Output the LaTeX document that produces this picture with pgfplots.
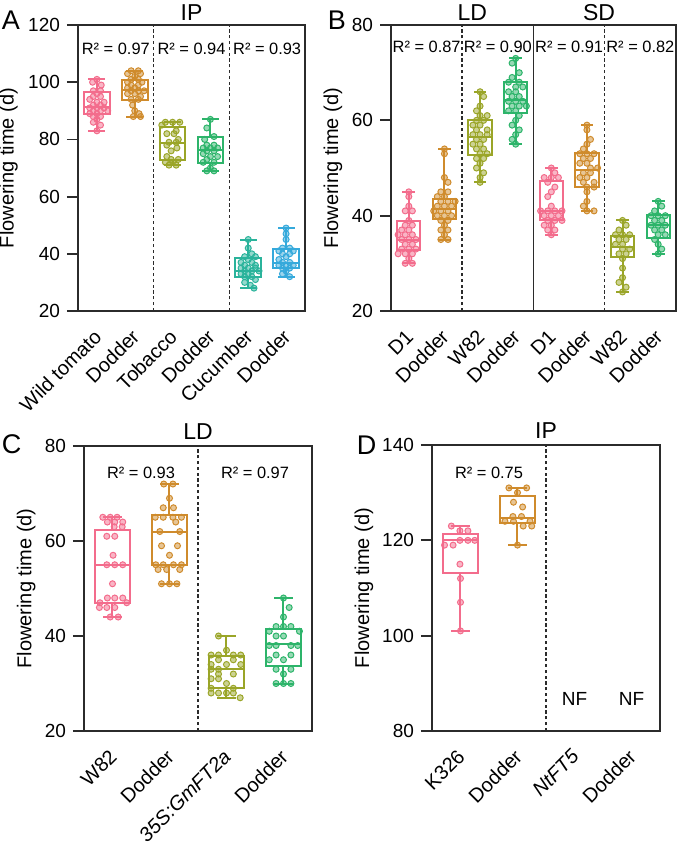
\documentclass[border=0pt]{standalone}
\usepackage{fontspec}
\setmainfont{Liberation Sans}
\usepackage{pgfplots}
\pgfplotsset{compat=1.18}

\definecolor{pinkc}{HTML}{F36C8C}
\definecolor{goldc}{HTML}{CF8B2C}
\definecolor{olivec}{HTML}{9AA528}
\definecolor{greenc}{HTML}{2DB46A}
\definecolor{tealc}{HTML}{2AB39B}
\definecolor{bluec}{HTML}{35A9DB}
\definecolor{axc}{HTML}{2B2B2B}

\newcommand{\tk}{\fontsize{9.5}{11}\selectfont}
\newcommand{\xl}{\fontsize{10}{12}\selectfont}
\newcommand{\rs}{\fontsize{8.2}{10}\selectfont}
\newcommand{\ttl}{\fontsize{11.5}{13}\selectfont}

\pgfplotsset{
  panel/.style={
    scale only axis, clip=false,
    axis line style={line width=0.9pt, draw=axc},
    ytick style={line width=0.9pt, draw=axc},
    xtick style={draw=none},
    ytick pos=left, xtick pos=bottom,
    ytick align=outside, major tick length=5.5pt,
    xticklabel style={font=\xl, xshift=0.5pt, yshift=-11pt, rotate=45, anchor=east, inner sep=0pt},
    yticklabel style={font=\tk},
    ylabel={Flowering time (d)},
    ylabel style={font=\xl, anchor=center},
    /pgf/number format/assume math mode=true,
  },
  pt/.style={only marks, mark=*, mark size=1.5pt,
    mark options={draw=#1, fill=#1, fill opacity=0.5, line width=0.5pt, solid}},
  bx/.style={draw=#1, line width=1pt, solid, line cap=rect, line join=miter, mark=none},
  sep/.style={dash pattern=on 1.6pt off 1.3pt, line width=0.75pt, draw=axc},
}

% box and whiskers from five numbers:
% #1 colour, #2 position, #3 half box, #4 half cap, #5 low whisker, #6 q1, #7 median, #8 q3, #9 high whisker
\newcommand{\bxp}[9]{%
  \pgfmathsetmacro\xa{#2-#3}\pgfmathsetmacro\xb{#2+#3}%
  \pgfmathsetmacro\ca{#2-#4}\pgfmathsetmacro\cb{#2+#4}%
  \addplot[bx=#1] coordinates {(\xa,#6) (\xb,#6) (\xb,#8) (\xa,#8) (\xa,#6)};
  \addplot[bx=#1] coordinates {(\xa,#7) (\xb,#7)};
  \addplot[bx=#1] coordinates {(#2,#8) (#2,#9)};
  \addplot[bx=#1] coordinates {(#2,#6) (#2,#5)};
  \addplot[bx=#1] coordinates {(\ca,#9) (\cb,#9)};
  \addplot[bx=#1] coordinates {(\ca,#5) (\cb,#5)};
}

\begin{document}
\begin{tikzpicture}

% ---------------- A ----------------
\begin{axis}[panel, at={(39pt,-155.5pt)}, anchor=south west,
  width=113.5pt, height=143pt,
  xmin=0.5, xmax=6.5, ymin=20, ymax=120, ytick={20,40,...,120},
  xtick={1,...,6},
  xticklabels={Wild tomato,Dodder,Tobacco,Dodder,Cucumber,Dodder},
  ylabel style={at={(axis description cs:-0.306,0.5)}}]
\addplot[sep] coordinates {(2.5,20) (2.5,120)};
\addplot[sep] coordinates {(4.5,20) (4.5,120)};
\bxp{pinkc}{1}{0.34}{0.2}{83}{88.9}{91.2}{96.7}{101}
\bxp{goldc}{2}{0.34}{0.2}{88}{93.8}{97.3}{100.8}{104}
\bxp{olivec}{3}{0.34}{0.2}{71}{72.8}{78.8}{84.5}{86}
\bxp{greenc}{4}{0.34}{0.2}{69}{71.6}{76.3}{81}{87}
\bxp{tealc}{5}{0.34}{0.2}{28}{32}{34}{38.4}{45}
\bxp{bluec}{6}{0.34}{0.2}{32}{35}{36.7}{41.6}{49}
\addplot[pt=pinkc] table[x expr=1+\thisrow{j}*0.19, y=y] {
j y
0 101
-0.6 100
0.6 99
-0.5 97
0.5 97
0 96
-0.5 95
0.5 95
-1 94
0 93
1 93
-0.5 92
0.5 92
-1 91
0 91
1 91
-0.5 90
0.5 90
1.5 90
-1 89
0 89
-0.5 88
0.5 88
0 87
-0.5 86
0.5 85
0 83
};
\addplot[pt=goldc] table[x expr=2+\thisrow{j}*0.19, y=y] {
j y
-0.5 104
0.5 104
-1 103
0.8 103
0 102
-0.5 101
0.5 101
-1 100
1 100
-0.5 99
0.5 99
-1 98
0 98
-0.5 97
0.5 97
1.3 97
-1 96
0 96
0.8 95
-0.5 94
0.5 94
-0.3 92
0 90
0.6 89
-0.2 88
0.8 88
};
\addplot[pt=olivec] table[x expr=3+\thisrow{j}*0.19, y=y] {
j y
-1 86
0 86
1 86
-1.5 85
0.5 83
-0.8 82
0.2 82
0.8 80
-0.5 79
0.5 79
-0.8 78
0.6 77
-0.2 76
-0.8 74
-0.2 73
0.8 73
-1 72
0 72
-0.5 71
0.5 71
};
\addplot[pt=greenc] table[x expr=4+\thisrow{j}*0.19, y=y] {
j y
0 87
-0.5 84
0.5 81
-0.8 80
-0.5 78
0.5 78
-1 77
0 77
1 77
-0.5 76
0.5 76
-1 75
0 74
1 74
-0.5 73
-1 72
0.5 72
0 70
-0.5 69
0.5 69
};
\addplot[pt=tealc] table[x expr=5+\thisrow{j}*0.19, y=y] {
j y
0 45
0 42
0.5 40
-0.5 39
1 39
0 38
-1 37
0.5 37
-0.5 36
1 36
-1 35
0 35
1 35
-0.5 34
0.5 34
1.5 34
-1 33
0 33
-0.5 32
0.5 32
1 31
-0.5 30
0.3 29
0.8 28
};
\addplot[pt=bluec] table[x expr=6+\thisrow{j}*0.19, y=y] {
j y
0 49
0 47
0 45
-0.5 42
0.5 42
-1 41
1 41
-0.5 40
0.5 40
0 39
-1 38
-0.5 37
0.5 37
-1 36
0 36
1 36
-0.5 35
0.5 35
0 34
-0.5 33
0.5 32
};
\node[font=\rs] at (axis cs:1.5,111.6) {R² = 0.97};
\node[font=\rs] at (axis cs:3.5,111.6) {R² = 0.94};
\node[font=\rs] at (axis cs:5.5,111.6) {R² = 0.93};
\node[font=\ttl] at (axis description cs:0.5,1.045) {IP};
\end{axis}

% ---------------- B ----------------
\begin{axis}[panel, at={(195.5pt,-155.5pt)}, anchor=south west,
  width=142.5pt, height=143pt,
  xmin=0.5, xmax=8.5, ymin=20, ymax=80, ytick={20,40,60,80},
  xtick={1,...,8},
  xticklabels={D1,Dodder,W82,Dodder,D1,Dodder,W82,Dodder},
  ylabel style={at={(axis description cs:-0.204,0.5)}}]
\addplot[sep] coordinates {(2.5,20) (2.5,80)};
\addplot[sep] coordinates {(6.5,20) (6.5,80)};
\addplot[draw=axc, line width=0.9pt] coordinates {(4.5,20) (4.5,80)};
\bxp{pinkc}{1}{0.325}{0.15}{30}{32.8}{35}{38.9}{45}
\bxp{goldc}{2}{0.325}{0.15}{35}{39.3}{41.5}{43.6}{54}
\bxp{olivec}{3}{0.325}{0.15}{47}{52.7}{56.6}{60.1}{66}
\bxp{greenc}{4}{0.325}{0.15}{55}{61.5}{64.3}{68.1}{73}
\bxp{pinkc}{5}{0.325}{0.15}{36}{39.1}{41}{47.3}{50}
\bxp{goldc}{6}{0.325}{0.15}{41}{46.1}{49.6}{53.1}{59}
\bxp{olivec}{7}{0.325}{0.15}{24}{31.4}{33.5}{35.7}{39}
\bxp{greenc}{8}{0.325}{0.15}{32}{35.3}{38}{40.1}{43}
\addplot[pt=pinkc] table[x expr=1+\thisrow{j}*0.2, y=y] {
j y
0 45
0 44
0 42
-0.5 41
0.5 41
0 39
-0.5 38
0.5 38
-1 37
0 37
-1.5 36
-0.5 36
0.5 36
-1 35
0 35
1 35
-0.5 34
0.5 34
-1 33
0 33
1 33
-1.5 32
-0.5 32
0.5 32
0 31
-0.5 30
0.5 30
};
\addplot[pt=goldc] table[x expr=2+\thisrow{j}*0.2, y=y] {
j y
0 54
0 53
0 48
0.5 47
-0.5 45
0.5 45
-1 44
0 44
-0.5 43
0.5 43
1.5 43
-1 42
0 42
1 42
-1.5 41
-0.5 41
0.5 41
-1 40
0 40
1 40
-0.5 39
0.5 39
0 38
-0.5 37
0.5 37
0 36
-0.5 35
0.5 35
};
\addplot[pt=olivec] table[x expr=3+\thisrow{j}*0.2, y=y] {
j y
0 66
0.5 65
0 63
-0.5 62
0 61
1 61
-0.5 60
0.5 60
-1 59
0 59
-0.5 58
1 58
-1 57
0 57
1 57
-0.5 56
0.5 56
-1 55
0 55
-0.5 54
0.5 54
0 53
1 53
-0.5 52
0.5 52
0 51
-0.5 50
0.5 49
0 48
0 47
};
\addplot[pt=greenc] table[x expr=4+\thisrow{j}*0.2, y=y] {
j y
0 73
-0.5 72
0.5 70
-0.5 69
-1 68
0.5 68
0 67
1 67
-1 66
0 66
-0.5 65
0.5 65
-1 64
0 64
1 64
-0.5 63
0.5 63
1.5 63
-1 62
0 62
0.5 61
0 60
-0.5 59
0.5 58
0 57
-0.5 56
0 55
};
\addplot[pt=pinkc] table[x expr=5+\thisrow{j}*0.2, y=y] {
j y
0 50
0.5 49
-1 48
0 48
1 48
-0.5 47
0.5 46
0 45
-0.5 44
0 42
-1.5 41
-0.5 41
0.5 41
1.5 41
-1 40
0 40
1 40
-0.5 39
0.5 39
1.5 39
-1 38
0 38
-0.5 37
0.5 37
0 36
};
\addplot[pt=goldc] table[x expr=6+\thisrow{j}*0.2, y=y] {
j y
0 59
0 58
0.5 56
0 55
-0.5 54
-1 53
0 53
1 53
-0.5 52
0.5 52
-1 51
0 51
0.5 50
1.5 50
-0.5 49
0.5 49
-1 48
0 48
-0.5 47
1 47
0 46
1 46
0 45
0 43
-0.5 42
0 41
1 41
};
\addplot[pt=olivec] table[x expr=7+\thisrow{j}*0.2, y=y] {
j y
0 39
0.5 38
-0.5 37
-1 36
0 36
1 36
-0.5 35
0.5 35
-1 34
0 34
0 33
1 33
-0.5 32
0.5 32
0 31
0 29
0 27
-0.5 26
0.5 25
0 24
};
\addplot[pt=greenc] table[x expr=8+\thisrow{j}*0.2, y=y] {
j y
0 43
0.5 42
-0.5 41
-1 40
0 40
1 40
-0.5 39
0.5 39
-1 38
0 38
1 38
-0.5 37
0.5 37
0 36
1 36
-0.5 35
0 34
0.5 33
0 32
};
\node[font=\rs] at (axis cs:1.5,75.4) {R² = 0.87};
\node[font=\rs] at (axis cs:3.5,75.4) {R² = 0.90};
\node[font=\rs] at (axis cs:5.5,75.4) {R² = 0.91};
\node[font=\rs] at (axis cs:7.5,75.4) {R² = 0.82};
\node[font=\ttl] at (axis description cs:0.285,1.045) {LD};
\node[font=\ttl] at (axis description cs:0.73,1.045) {SD};
\end{axis}

% ---------------- C ----------------
\begin{axis}[panel, at={(42pt,-365.5pt)}, anchor=south west,
  width=114pt, height=142.5pt,
  xmin=0.5, xmax=4.5, ymin=20, ymax=80, ytick={20,40,60,80},
  xtick={1,...,4},
  xticklabels={W82,Dodder,\textit{35S:GmFT2a},Dodder},
  ylabel style={at={(axis description cs:-0.254,0.5)}}]
\addplot[sep] coordinates {(2.5,20) (2.5,80)};
\bxp{pinkc}{1}{0.31}{0.145}{44}{47}{55}{62.3}{65}
\bxp{goldc}{2}{0.31}{0.145}{51}{55}{62}{65.5}{72}
\bxp{olivec}{3}{0.31}{0.145}{27}{29}{33}{35.7}{40}
\bxp{greenc}{4}{0.31}{0.145}{30}{33.7}{38.3}{41.5}{48}
\addplot[pt=pinkc] table[x expr=1+\thisrow{j}, y=y] {
j y
-0.17 65
-0.04 65
0.08 65
-0.09 64
0.04 64
0.18 64
0.03 63
0.17 63
-0.1 61
0.04 61
0.01 57
-0.1 55
0.04 55
0.18 55
0 51
-0.09 48
0.04 48
0.18 48
-0.22 47
0.25 47
-0.23 46
-0.1 46
0.04 46
-0.04 44
0.1 44
};
\addplot[pt=goldc] table[x expr=2+\thisrow{j}, y=y] {
j y
-0.1 72
0.06 72
0 69
-0.11 67
0.07 67
-0.25 65
-0.11 65
0.06 65
0.21 65
0.11 64
-0.17 62
0.18 62
-0.14 59
0.14 59
0 57
-0.24 55
-0.11 55
0.07 55
0.21 55
-0.2 54
-0.05 54
0.18 54
-0.14 51
0 51
0.13 51
};
\addplot[pt=olivec] table[x expr=3+\thisrow{j}, y=y] {
j y
-0.14 40
0 37
-0.27 36
-0.14 36
0.12 36
0.25 36
-0.14 35
0.12 35
-0.27 34
0 34
0.25 34
-0.27 33
-0.14 33
-0.14 32
0.12 32
-0.27 31
-0.14 31
0 30
-0.27 29
0.12 29
-0.27 28
-0.14 28
0 28
0.12 28
0.24 27
};
\addplot[pt=greenc] table[x expr=4+\thisrow{j}, y=y] {
j y
0 48
0.1 46
0 44
-0.13 42
0 42
0.13 42
-0.25 41
0.28 41
-0.13 40
0 40
-0.25 38
-0.13 38
0.13 38
0.25 38
-0.13 36
0.13 36
-0.25 35
0 35
-0.13 33
0.13 33
0 32
-0.13 30
0 30
0.13 30
};
\node[font=\rs] at (axis cs:1.5,74.3) {R² = 0.93};
\node[font=\rs] at (axis cs:3.5,74.3) {R² = 0.97};
\node[font=\ttl] at (axis description cs:0.5,1.05) {LD};
\end{axis}

% ---------------- D ----------------
\begin{axis}[panel, at={(216pt,-365.5pt)}, anchor=south west,
  width=114pt, height=143pt,
  xmin=0.5, xmax=4.5, ymin=80, ymax=140, ytick={80,100,120,140},
  xtick={1,...,4},
  xticklabels={K326,Dodder,\textit{NtFT5},Dodder},
  ylabel style={at={(axis description cs:-0.298,0.5)}}]
\addplot[sep] coordinates {(2.5,80) (2.5,140)};
\bxp{pinkc}{1}{0.305}{0.15}{101}{113.1}{120}{121.3}{123}
\bxp{goldc}{2}{0.305}{0.15}{119}{123.6}{124.6}{129.2}{131}
\addplot[pt=pinkc] table[x expr=1+\thisrow{j}, y=y] {
j y
-0.16 123
-0.01 122
0.13 122
-0.01 120
0.13 120
0.25 120
-0.28 119
-0.13 119
-0.01 115
0 112
0 107
0 101
};
\addplot[pt=goldc] table[x expr=2+\thisrow{j}, y=y] {
j y
-0.15 131
0.16 131
0 130
-0.07 128
0.09 127
-0.08 125
0.07 125
-0.22 124
-0.07 124
0.22 124
0.1 123
0.25 123
0 119
};
\node[font=\rs] at (axis cs:1.5,134.1) {R² = 0.75};
\node[font=\tk] at (axis cs:3,86.7) {NF};
\node[font=\tk] at (axis cs:4,86.7) {NF};
\node[font=\ttl] at (axis description cs:0.5,1.05) {IP};
\end{axis}

% panel letters
\node[font=\fontsize{13.5}{15}\selectfont] at (5.5pt,-10.25pt) {A};
\node[font=\fontsize{13.5}{15}\selectfont] at (168.5pt,-10pt) {B};
\node[font=\fontsize{13.5}{15}\selectfont] at (5.8pt,-222pt) {C};
\node[font=\fontsize{13.5}{15}\selectfont] at (183.3pt,-222.5pt) {D};

\pgfresetboundingbox
\path[use as bounding box] (0,0) rectangle (338.5pt,-421.5pt);
\end{tikzpicture}
\end{document}
